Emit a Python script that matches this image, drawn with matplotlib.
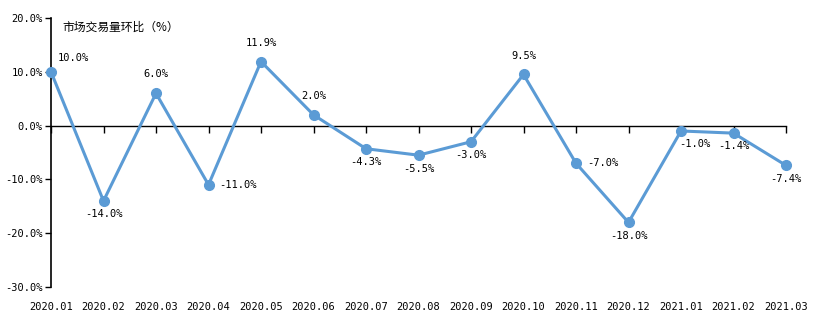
import matplotlib
matplotlib.use("Agg")
import matplotlib.pyplot as plt
import matplotlib.transforms as mtransforms

months = ["2020.01", "2020.02", "2020.03", "2020.04", "2020.05", "2020.06", "2020.07",
          "2020.08", "2020.09", "2020.10", "2020.11", "2020.12", "2021.01", "2021.02", "2021.03"]
mom_change = [10.0, -14.0, 6.0, -11.0, 11.9, 2.0, -4.3, -5.5, -3.0, 9.5, -7.0, -18.0, -1.0, -1.4, -7.4]
# label placement for each point
label_pos = ["above_right", "below", "above", "right", "above", "above", "below",
             "below", "below", "above", "right", "below", "below_right", "below", "below"]
y_ticks = [-30, -20, -10, 0, 10, 20]

plt.rcParams['font.family'] = ['DejaVu Sans Mono', 'Noto Sans CJK SC']
color = "#5B9BD5"

fig = plt.figure(figsize=(8.22, 3.25), dpi=100)
ax = fig.add_axes([51/822, 1-287/325, (786-51)/822, (287-18)/325])

x = list(range(len(months)))
ax.plot(x, mom_change, color=color, lw=2.2, marker="o", ms=7, zorder=3, clip_on=False)

ax.set_xlim(0, len(months)-1)
ax.set_ylim(-30, 20)
ax.set_yticks(y_ticks)
ax.set_yticklabels([f"{v:.1f}%" for v in y_ticks], fontsize=7.5)
ax.tick_params(axis="y", direction="out", length=4, width=1, pad=2)

for s in ["top", "right"]:
    ax.spines[s].set_visible(False)
ax.spines["bottom"].set_position(("data", 0))
ax.spines["left"].set_linewidth(1.2)
ax.spines["bottom"].set_linewidth(1.0)
ax.set_xticks(x)
ax.set_xticklabels([])
ax.tick_params(axis="x", direction="out", length=5, width=1)

trans = mtransforms.blended_transform_factory(ax.transData, ax.transAxes)
for xi, m in zip(x, months):
    ax.text(xi, -0.055, m, transform=trans, ha="center", va="top", fontsize=7.5)

for xi, v, p in zip(x, mom_change, label_pos):
    txt = f"{v:.1f}%"
    if p == "above":
        ax.annotate(txt, (xi, v), xytext=(0, 10), textcoords="offset points",
                    ha="center", va="bottom", fontsize=7.5)
    elif p == "above_right":
        ax.annotate(txt, (xi, v), xytext=(5, 6), textcoords="offset points",
                    ha="left", va="bottom", fontsize=7.5)
    elif p == "below":
        ax.annotate(txt, (xi, v), xytext=(0, -6), textcoords="offset points",
                    ha="center", va="top", fontsize=7.5)
    elif p == "below_right":
        ax.annotate(txt, (xi, v), xytext=(10, -6), textcoords="offset points",
                    ha="center", va="top", fontsize=7.5)
    else:
        ax.annotate(txt, (xi, v), xytext=(8, 0), textcoords="offset points",
                    ha="left", va="center", fontsize=7.5)

ax.text(62/822, 1-27/325, "市场交易量环比（%）", transform=fig.transFigure,
        fontsize=8.5, ha="left", va="center", family=['Noto Sans CJK SC', 'DejaVu Sans'])

fig.savefig("out.png", dpi=100)
